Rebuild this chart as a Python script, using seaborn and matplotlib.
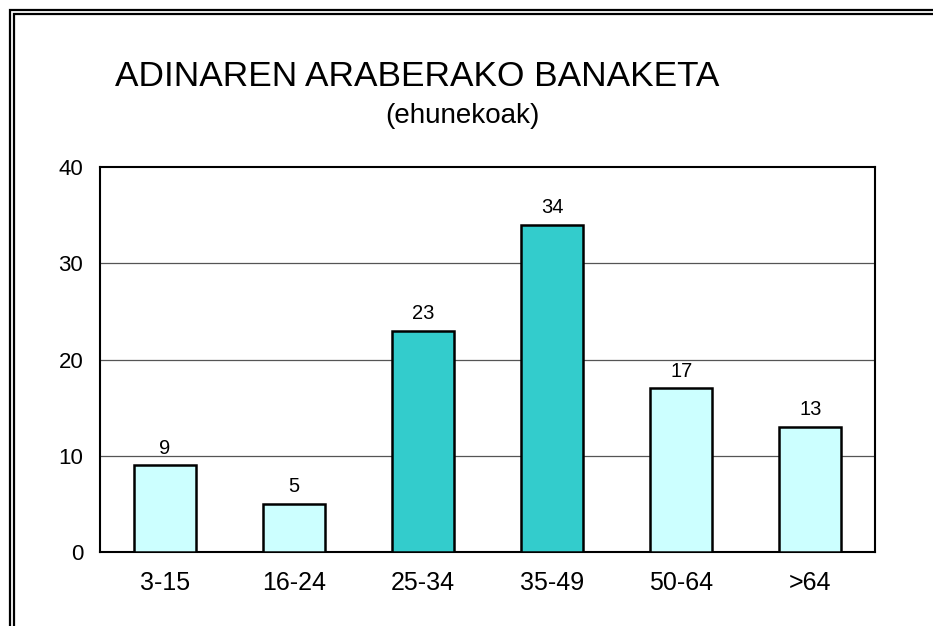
import matplotlib
matplotlib.use("Agg")
import matplotlib.pyplot as plt
import seaborn as sns
import pandas as pd
from matplotlib.patches import Rectangle

categories = ["3-15", "16-24", "25-34", "35-49", "50-64", ">64"]
values = [9, 5, 23, 34, 17, 13]
bar_colors = ["#CCFFFF", "#CCFFFF", "#33CCCC", "#33CCCC", "#CCFFFF", "#CCFFFF"]
yticks = [0, 10, 20, 30, 40]

sns.set_theme(style="white")
plt.rcParams["font.family"] = ["Liberation Sans", "DejaVu Sans"]
plt.rcParams["text.color"] = "black"
plt.rcParams["xtick.color"] = "black"
plt.rcParams["ytick.color"] = "black"

W, H = 933, 626
fig = plt.figure(figsize=(W / 100, H / 100), dpi=100)
ax = fig.add_axes([100 / W, 1 - 552 / H, (875 - 100) / W, (552 - 167) / H])

df = pd.DataFrame({"cat": categories, "val": values})
sns.barplot(data=df, x="cat", y="val", hue="cat", palette=bar_colors, legend=False,
            width=0.48, edgecolor="black", linewidth=1.8, ax=ax, zorder=3, saturation=1)

ax.set_ylim(0, 40)
ax.set_xlim(-0.5, len(categories) - 0.5)
ax.set_yticks(yticks)
ax.set_yticklabels([str(t) for t in yticks], fontsize=16, color="black")
ax.tick_params(axis="y", length=0, pad=12)
ax.tick_params(axis="x", length=0, pad=14, labelsize=18, labelcolor="black")
ax.set_xlabel("")
ax.set_ylabel("")
for y in yticks[1:-1]:
    ax.axhline(y, color="#555555", linewidth=0.9, zorder=1)
for s in ax.spines.values():
    s.set_visible(True)
    s.set_color("black")
    s.set_linewidth(1.5)

for i, v in enumerate(values):
    ax.annotate(str(v), (i, v), xytext=(0, 12.5), textcoords="offset points",
                ha="center", va="center", fontsize=14.5, color="black")

fig.text(115 / W, 1 - 76 / H, "ADINAREN ARABERAKO BANAKETA", fontsize=25.4,
         ha="left", va="center", color="black")
fig.text(462 / W, 1 - 116 / H, "(ehunekoak)", fontsize=20,
         ha="center", va="center", color="black")

# double frame at top/left
for off in (9.5, 13.5):
    fig.patches.append(Rectangle((off / W, -0.1), 1.2, 1 - off / H + 0.1,
                                 transform=fig.transFigure, fill=False,
                                 edgecolor="black", linewidth=1.6))

fig.savefig("out.png", dpi=100)
